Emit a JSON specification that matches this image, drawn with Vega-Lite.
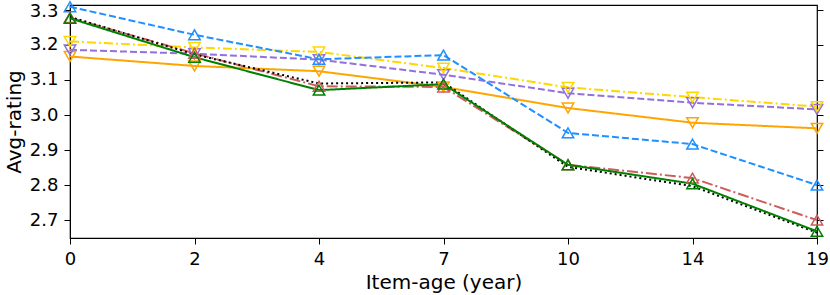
{
  "$schema": "https://vega.github.io/schema/vega-lite/v6.json",
  "autosize": "none",
  "width": 747,
  "height": 233,
  "padding": {"left": 70, "top": 5, "right": 13, "bottom": 57},
  "config": {
    "font": "DejaVu Sans",
    "view": {"stroke": "black", "strokeWidth": 1.2},
    "axis": {"grid": false, "domainColor": "black", "tickColor": "black", "labelColor": "black", "titleColor": "black", "labelFont": "DejaVu Sans", "titleFont": "DejaVu Sans", "labelFontSize": 18, "titleFontSize": 20, "titleFontWeight": "normal", "tickSize": 6, "labelPadding": 6}
  },
  "data": {"values": [
    {"age": 0, "s": "orange", "v": 3.167}, {"age": 2, "s": "orange", "v": 3.14}, {"age": 4, "s": "orange", "v": 3.125}, {"age": 7, "s": "orange", "v": 3.08}, {"age": 10, "s": "orange", "v": 3.02}, {"age": 14, "s": "orange", "v": 2.978}, {"age": 19, "s": "orange", "v": 2.962},
    {"age": 0, "s": "purple", "v": 3.186}, {"age": 2, "s": "purple", "v": 3.175}, {"age": 4, "s": "purple", "v": 3.158}, {"age": 7, "s": "purple", "v": 3.115}, {"age": 10, "s": "purple", "v": 3.062}, {"age": 14, "s": "purple", "v": 3.035}, {"age": 19, "s": "purple", "v": 3.016},
    {"age": 0, "s": "gold", "v": 3.21}, {"age": 2, "s": "gold", "v": 3.193}, {"age": 4, "s": "gold", "v": 3.18}, {"age": 7, "s": "gold", "v": 3.134}, {"age": 10, "s": "gold", "v": 3.079}, {"age": 14, "s": "gold", "v": 3.051}, {"age": 19, "s": "gold", "v": 3.024},
    {"age": 0, "s": "blue", "v": 3.309}, {"age": 2, "s": "blue", "v": 3.229}, {"age": 4, "s": "blue", "v": 3.159}, {"age": 7, "s": "blue", "v": 3.171}, {"age": 10, "s": "blue", "v": 2.949}, {"age": 14, "s": "blue", "v": 2.917}, {"age": 19, "s": "blue", "v": 2.8},
    {"age": 0, "s": "red", "v": 3.278}, {"age": 2, "s": "red", "v": 3.176}, {"age": 4, "s": "red", "v": 3.082}, {"age": 7, "s": "red", "v": 3.08}, {"age": 10, "s": "red", "v": 2.858}, {"age": 14, "s": "red", "v": 2.82}, {"age": 19, "s": "red", "v": 2.7},
    {"age": 0, "s": "black", "v": 3.28}, {"age": 2, "s": "black", "v": 3.173}, {"age": 4, "s": "black", "v": 3.09}, {"age": 7, "s": "black", "v": 3.093}, {"age": 10, "s": "black", "v": 2.852}, {"age": 14, "s": "black", "v": 2.797}, {"age": 19, "s": "black", "v": 2.664},
    {"age": 0, "s": "green", "v": 3.276}, {"age": 2, "s": "green", "v": 3.165}, {"age": 4, "s": "green", "v": 3.071}, {"age": 7, "s": "green", "v": 3.088}, {"age": 10, "s": "green", "v": 2.858}, {"age": 14, "s": "green", "v": 2.804}, {"age": 19, "s": "green", "v": 2.668}
  ]},
  "encoding": {
    "x": {"field": "age", "type": "ordinal", "scale": {"type": "point", "padding": 0, "domain": [0, 2, 4, 7, 10, 14, 19]}, "axis": {"title": "Item-age (year)", "labelAngle": 0, "titlePadding": 4}},
    "y": {"field": "v", "type": "quantitative", "scale": {"domain": [2.649, 3.314], "nice": false, "zero": false}},
    "color": {"field": "s", "type": "nominal", "legend": null, "scale": {"domain": ["orange", "purple", "gold", "blue", "red", "black", "green"], "range": ["#FFA500", "#9370DB", "#FFD700", "#1E90FF", "#CD5C5C", "#000000", "#008000"]}}
  },
  "layer": [
    {
      "mark": {"type": "line", "strokeWidth": 2},
      "encoding": {
        "y": {"field": "v", "type": "quantitative", "axis": {"title": "Avg-rating", "values": [2.7, 2.8, 2.9, 3.0, 3.1, 3.2, 3.3], "format": ".1f", "titlePadding": 5, "labelOffset": {"condition": {"test": "datum.value > 3.25", "value": 2}, "value": 0}}},
        "strokeDash": {"field": "s", "type": "nominal", "legend": null, "scale": {"domain": ["orange", "purple", "gold", "blue", "red", "black", "green"], "range": [[1, 0], [7, 3], [9, 3, 2, 3], [7, 3], [11, 3, 2, 3], [2, 3], [1, 0]]}}
      }
    },
    {
      "transform": [{"filter": "datum.s != 'black'"}],
      "mark": {"type": "point", "filled": false, "size": 130, "strokeWidth": 1.5, "opacity": 1},
      "encoding": {
        "y": {"field": "v", "type": "quantitative", "axis": {"orient": "right", "labels": false, "title": null, "values": [2.7, 2.8, 2.9, 3.0, 3.1, 3.2, 3.3], "domain": false}},
        "shape": {"field": "s", "type": "nominal", "legend": null, "scale": {"domain": ["orange", "purple", "gold", "blue", "red", "green"], "range": ["triangle-down", "triangle-down", "triangle-down", "triangle-up", "triangle-up", "triangle-up"]}}
      }
    }
  ],
  "resolve": {"axis": {"y": "independent"}}
}
